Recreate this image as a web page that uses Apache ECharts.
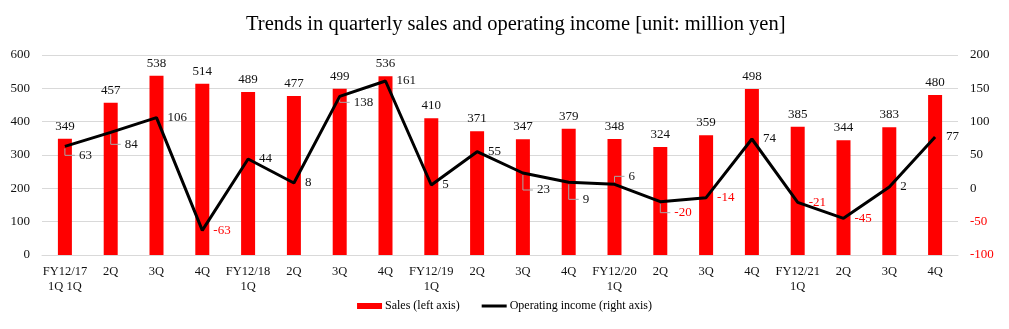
<!DOCTYPE html>
<html>
<head>
<meta charset="utf-8">
<script src="https://cdn.jsdelivr.net/npm/echarts@6/dist/echarts.min.js"></script>
<style>
  html, body { margin: 0; padding: 0; background: #fff; }
  #chart { width: 1009px; height: 329px; }
</style>
</head>
<body>
<div id="chart"></div>
<script>
// Quarter labels (fiscal year shown on the first quarter of each year)
const quarters = [
  'FY12/17\n1Q 1Q', '2Q', '3Q', '4Q',
  'FY12/18\n1Q', '2Q', '3Q', '4Q',
  'FY12/19\n1Q', '2Q', '3Q', '4Q',
  'FY12/20\n1Q', '2Q', '3Q', '4Q',
  'FY12/21\n1Q', '2Q', '3Q', '4Q'
];
// Sales, million yen (left axis)
const sales = [349, 457, 538, 514, 489, 477, 499, 536, 410, 371, 347, 379, 348, 324, 359, 498, 385, 344, 383, 480];
// Operating income, million yen (right axis)
const operatingIncome = [63, 84, 106, -63, 44, 8, 138, 161, 5, 55, 23, 9, 6, -20, -14, 74, -21, -45, 2, 77];
// Value labels that are pulled away from the line, with a leader line [index, dx, dy]
const shiftedLabels = [[0, 3, 9], [1, 3, 12], [6, 3, 6], [10, 3, 17], [11, 3, 17], [12, 3, -8], [13, 3, 11]];

const serif = '"Liberation Serif", "Times New Roman", serif';
const labelGap = 11;
const chart = echarts.init(document.getElementById('chart'), null, { renderer: 'canvas' });

const shiftMap = {};
shiftedLabels.forEach(([i, dx, dy]) => { shiftMap[i] = [dx, dy]; });

chart.setOption({
  animation: false,
  textStyle: { fontFamily: serif },
  title: {
    text: 'Trends in quarterly sales and operating income [unit: million yen]',
    left: 241,
    top: 9,
    textStyle: { fontFamily: serif, fontSize: 20.5, fontWeight: 'normal', color: '#000' }
  },
  legend: {
    bottom: 12,
    left: 'center',
    itemGap: 22,
    itemWidth: 25,
    itemHeight: 6,
    textStyle: { fontFamily: serif, fontSize: 12, color: '#000', padding: [0, 0, 0, -2] },
    data: [
      { name: 'Sales (left axis)', icon: 'rect' },
      { name: 'Operating income (right axis)', icon: 'path://M0,0h25v3h-25z', itemStyle: { color: '#000' } }
    ]
  },
  grid: { left: 42, right: 51, top: 55, bottom: 74, containLabel: false },
  xAxis: {
    type: 'category',
    data: quarters,
    axisLine: { lineStyle: { color: '#d9d9d9' } },
    axisTick: { show: false },
    axisLabel: { fontFamily: serif, fontSize: 12.5, color: '#111', lineHeight: 15, margin: 9, interval: 0 }
  },
  yAxis: [
    {
      type: 'value', min: 0, max: 600, interval: 100,
      axisLine: { show: false }, axisTick: { show: false },
      splitLine: { lineStyle: { color: '#d9d9d9' } },
      axisLabel: { fontFamily: serif, fontSize: 13, color: '#111', margin: 12 }
    },
    {
      type: 'value', min: -100, max: 200, interval: 50,
      axisLine: { show: false }, axisTick: { show: false },
      splitLine: { show: false },
      axisLabel: {
        fontFamily: serif, fontSize: 13, margin: 12,
        formatter: v => v < 0 ? '{neg|' + v + '}' : '{pos|' + v + '}',
        rich: {
          neg: { color: '#ff0000', fontFamily: serif, fontSize: 13 },
          pos: { color: '#111', fontFamily: serif, fontSize: 13 }
        }
      }
    }
  ],
  series: [
    {
      name: 'Sales (left axis)',
      type: 'bar',
      yAxisIndex: 0,
      data: sales,
      barWidth: 14,
      itemStyle: { color: '#ff0000' },
      label: {
        show: true, position: 'top', distance: 6,
        fontFamily: serif, fontSize: 13, color: '#111'
      }
    },
    {
      name: 'Operating income (right axis)',
      type: 'line',
      yAxisIndex: 1,
      data: operatingIncome,
      showSymbol: true,
      symbol: 'circle',
      symbolSize: 0,
      lineStyle: { color: '#000', width: 3 },
      itemStyle: { color: '#000' },
      z: 5,
      label: {
        show: true, position: 'right', distance: labelGap,
        fontFamily: serif, fontSize: 13,
        formatter: p => p.value < 0 ? '{neg|' + p.value + '}' : '{pos|' + p.value + '}',
        rich: {
          neg: { color: '#ff0000', fontFamily: serif, fontSize: 13 },
          pos: { color: '#111', fontFamily: serif, fontSize: 13 }
        }
      },
      labelLayout: p => {
        const s = shiftMap[p.dataIndex];
        return s ? { dx: s[0], dy: s[1] } : {};
      }
    }
  ]
});

// Elbow leader lines for the displaced income labels: down (or up) from the point, then across
const leaders = shiftedLabels.map(([i, dx, dy]) => {
  const [px, py] = chart.convertToPixel({ seriesIndex: 1 }, [i, operatingIncome[i]]);
  const ly = py + dy;
  const lx = px + labelGap + dx - 4;
  const sign = dy > 0 ? 1 : -1;
  return {
    type: 'polyline',
    z: 4,
    silent: true,
    shape: { points: [[px, py + sign * 2], [px, ly], [lx, ly]] },
    style: { stroke: '#a6a6a6', lineWidth: 1, fill: null }
  };
});
chart.setOption({ graphic: leaders });
</script>
</body>
</html>
